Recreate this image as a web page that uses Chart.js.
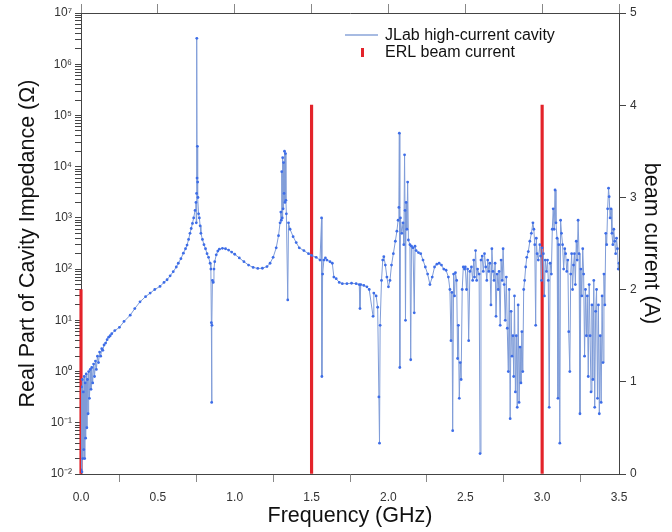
<!DOCTYPE html>
<html>
<head>
<meta charset="utf-8">
<script src="https://cdn.jsdelivr.net/npm/chart.js@4"></script>
<style>
  body { margin: 0; background: #fff; }
  canvas { display: block; }
</style>
</head>
<body>
<canvas id="impedanceChart" width="672" height="532"></canvas>
<script>
// Real part of cavity impedance vs frequency
const freqGHz = [
  0.000, 0.003, 0.006, 0.009, 0.012, 0.015, 0.018, 0.021, 0.024, 0.027,
  0.030, 0.034, 0.038, 0.042, 0.046, 0.050, 0.055, 0.060, 0.065, 0.070,
  0.076, 0.082, 0.088, 0.094, 0.100, 0.107, 0.114, 0.121, 0.128, 0.135,
  0.142, 0.150, 0.160, 0.170, 0.180, 0.190, 0.200, 0.220, 0.250, 0.280,
  0.320, 0.350, 0.384, 0.420, 0.450, 0.480, 0.514, 0.540, 0.560, 0.580,
  0.600, 0.620, 0.633, 0.650, 0.666, 0.680, 0.690, 0.700, 0.709, 0.717,
  0.725, 0.733, 0.742, 0.748, 0.750, 0.752, 0.7535, 0.755, 0.757, 0.759,
  0.761, 0.765, 0.770, 0.775, 0.780, 0.790, 0.800, 0.810, 0.820, 0.830,
  0.840, 0.845, 0.848, 0.850, 0.852, 0.855, 0.860, 0.865, 0.870, 0.880,
  0.890, 0.900, 0.920, 0.940, 0.960, 0.980, 1.000, 1.030, 1.060, 1.090,
  1.120, 1.150, 1.180, 1.210, 1.230, 1.250, 1.270, 1.285, 1.295, 1.300,
  1.303, 1.306, 1.309, 1.312, 1.315, 1.318, 1.321, 1.324, 1.327, 1.330,
  1.333, 1.336, 1.345, 1.350, 1.360, 1.380, 1.400, 1.420, 1.450, 1.480,
  1.500, 1.530, 1.555, 1.565, 1.567, 1.572, 1.580, 1.590, 1.600, 1.620,
  1.635, 1.645, 1.660, 1.680, 1.700, 1.730, 1.760, 1.790, 1.810, 1.815,
  1.820, 1.840, 1.860, 1.875, 1.900, 1.905, 1.920, 1.930, 1.938, 1.942,
  1.946, 1.955, 1.963, 1.970, 1.980, 1.990, 2.000, 2.010, 2.020, 2.032,
  2.045, 2.055, 2.063, 2.068, 2.071, 2.074, 2.078, 2.087, 2.095, 2.100,
  2.105, 2.108, 2.111, 2.115, 2.120, 2.125, 2.130, 2.140, 2.145, 2.150,
  2.160, 2.168, 2.173, 2.180, 2.195, 2.210, 2.225, 2.240, 2.255, 2.270,
  2.285, 2.300, 2.315, 2.330, 2.345, 2.360, 2.375, 2.390, 2.400, 2.407,
  2.413, 2.418, 2.424, 2.430, 2.436, 2.444, 2.450, 2.455, 2.461, 2.467,
  2.473, 2.480, 2.487, 2.495, 2.500, 2.508, 2.515, 2.522, 2.530, 2.540,
  2.548, 2.555, 2.560, 2.567, 2.574, 2.580, 2.590, 2.596, 2.602, 2.610,
  2.617, 2.625, 2.633, 2.640, 2.646, 2.653, 2.660, 2.667, 2.673, 2.680,
  2.687, 2.694, 2.700, 2.707, 2.714, 2.720, 2.727, 2.733, 2.740, 2.746,
  2.753, 2.760, 2.767, 2.773, 2.780, 2.786, 2.792, 2.798, 2.804, 2.810,
  2.815, 2.820, 2.826, 2.832, 2.838, 2.844, 2.850, 2.856, 2.862, 2.868,
  2.874, 2.880, 2.886, 2.893, 2.900, 2.910, 2.920, 2.930, 2.940, 2.946,
  2.952, 2.958, 2.962, 2.967, 2.975, 2.985, 2.990, 2.996, 3.000, 3.008,
  3.015, 3.020, 3.028, 3.035, 3.040, 3.046, 3.052, 3.060, 3.066, 3.072,
  3.078, 3.084, 3.090, 3.097, 3.103, 3.108, 3.115, 3.120, 3.126, 3.133,
  3.140, 3.147, 3.153, 3.160, 3.167, 3.173, 3.180, 3.186, 3.192, 3.198,
  3.204, 3.210, 3.216, 3.222, 3.228, 3.234, 3.240, 3.246, 3.252, 3.258,
  3.264, 3.270, 3.276, 3.282, 3.288, 3.294, 3.300, 3.306, 3.312, 3.318,
  3.324, 3.330, 3.336, 3.342, 3.348, 3.354, 3.360, 3.366, 3.372, 3.378,
  3.384, 3.390, 3.396, 3.402, 3.408, 3.414, 3.420, 3.426, 3.432, 3.436,
  3.442, 3.448, 3.454, 3.460, 3.466, 3.472, 3.478, 3.484, 3.490, 3.495,
  3.500
];
const impedanceOhm = [
  0.012, 0.5, 0.011, 0.7, 0.02, 0.4, 0.03, 0.8, 0.02, 0.6,
  0.05, 0.9, 0.08, 0.7, 0.15, 1.0, 0.3, 1.1, 0.45, 1.2,
  0.6, 1.4, 0.8, 1.6, 1.1, 2.0, 1.5, 2.4, 2.0, 2.8,
  2.6, 3.3, 3.6, 4.2, 4.7, 5.0, 5.5, 6.3, 7.3, 9.5,
  12.6, 17, 23, 29, 34, 40, 46, 55, 62, 74,
  89, 110, 130, 160, 205, 250, 295, 380, 500, 620,
  780, 1000, 1400, 2000, 800, 3000, 3.2e6, 6000, 25000, 5000,
  2500, 1200, 1000, 700, 500, 380, 300, 250, 200, 170,
  130, 100, 9, 0.25, 8, 60, 55, 100, 140, 190,
  225, 245, 255, 250, 235, 215, 195, 165, 140, 120,
  108, 103, 104, 112, 130, 170, 260, 450, 800, 1300,
  900, 8000, 1000, 15000, 1500, 12000, 3000, 20000, 2000, 18000,
  2200, 1200, 25, 800, 600, 430, 330, 260, 230, 200,
  185, 170, 150, 1000, 0.8, 80, 150, 165, 150, 140,
  130, 70, 65, 55, 52, 52, 53, 52, 50, 17,
  50, 48, 45, 40, 12, 34, 30, 18, 0.32, 0.04,
  8, 60, 150, 175, 120, 70, 45, 60, 120, 200,
  350, 550, 900, 1600, 45000, 1.2, 1000, 500, 800, 300,
  17000, 1400, 10, 2000, 600, 5000, 370, 300, 1.7, 280,
  260, 14, 280, 230, 210, 200, 150, 110, 80, 50,
  70, 110, 125, 130, 120, 100, 95, 70, 40, 4,
  35, 0.07, 80, 30, 85, 60, 1.8, 8, 0.3, 1.5,
  0.7, 40, 110, 100, 110, 40, 100, 4, 90, 110,
  60, 150, 70, 230, 60, 100, 80, 0.025, 150, 180,
  90, 200, 110, 60, 150, 90, 130, 20, 250, 90,
  60, 130, 12, 80, 40, 90, 8, 150, 60, 250,
  50, 10, 70, 7, 1.0, 40, 0.12, 15, 2, 5,
  0.8, 30, 0.4, 5, 0.2, 20, 0.25, 3, 0.6, 6,
  1.0, 40, 60, 110, 170, 220, 350, 500, 800, 600,
  300, 8, 400, 200, 150, 300, 180, 60, 260, 200,
  30, 150, 90, 150, 60, 0.2, 130, 80, 600, 1500,
  600, 3500, 800, 400, 0.3, 300, 0.04, 900, 500, 300,
  100, 250, 200, 90, 150, 6, 1.0, 80, 200, 40,
  120, 200, 50, 350, 150, 900, 200, 0.15, 100, 30,
  250, 80, 2, 40, 5, 30, 0.8, 50, 5, 0.4,
  20, 0.7, 60, 0.2, 15, 40, 0.3, 20, 0.15, 5,
  0.25, 30, 1.5, 80, 20, 500, 300, 1500, 3800, 2600,
  1000, 1500, 500, 300, 600, 350, 200, 400, 250, 100,
  130
];

// ERL beam current lines (right axis)
const beamFreqGHz = [0.0, 1.5, 3.0];
const beamCurrentA = [2, 4, 4];

const axisColor = "#444";
const tickFont = { family: "'Liberation Sans', Arial, sans-serif", size: 12 };
const titleFont = { family: "'Liberation Sans', Arial, sans-serif", size: 21.5 };

const supMap = { "-": "\u207B", "0": "\u2070", "1": "\u00B9", "2": "\u00B2", "3": "\u00B3",
  "4": "\u2074", "5": "\u2075", "6": "\u2076", "7": "\u2077", "8": "\u2078", "9": "\u2079" };
const isDecade = (v) => Math.abs(Math.log10(v) - Math.round(Math.log10(v))) < 1e-6;
const isWholeSignificand = (v) => {
    const s = v / Math.pow(10, Math.floor(Math.log10(v) + 1e-9));
    return Math.abs(s - Math.round(s)) < 1e-6;
};

// legend drawn inside the plot, top right
const insideLegend = {
    id: "insideLegend",
    afterDatasetsDraw(chart) {
        const ctx = chart.ctx;
        ctx.save();
        ctx.font = "16px 'Liberation Sans', Arial, sans-serif";
        ctx.fillStyle = "#111";
        ctx.textBaseline = "middle";
        ctx.strokeStyle = "#8aa4d8";
        ctx.lineWidth = 1.5;
        ctx.beginPath();
        ctx.moveTo(345, 35);
        ctx.lineTo(378, 35);
        ctx.stroke();
        ctx.fillText("JLab high-current cavity", 385, 36);
        ctx.fillStyle = "#e3232a";
        ctx.fillRect(361, 48, 3, 9);
        ctx.fillStyle = "#111";
        ctx.fillText("ERL beam current", 385, 53);
        ctx.restore();
    },
};

const ctx = document.getElementById("impedanceChart").getContext("2d");
new Chart(ctx, {
    type: "line",
    data: {
        datasets: [
            {
                label: "JLab high-current cavity",
                data: freqGHz.map((f, i) => ({ x: f, y: impedanceOhm[i] })),
                yAxisID: "y",
                borderColor: "#7f9cd8",
                borderWidth: 1,
                pointRadius: 1.4,
                pointBorderWidth: 0,
                pointBackgroundColor: "#3d6de8",
                tension: 0,
            },
            {
                type: "bar",
                label: "ERL beam current",
                data: beamFreqGHz.map((f, i) => ({ x: f, y: beamCurrentA[i] })),
                yAxisID: "y2",
                backgroundColor: "#e3232a",
                barThickness: 2.5,
                grouped: false,
                clip: false,
            },
        ],
    },
    options: {
        responsive: false,
        devicePixelRatio: 1,
        animation: false,
        layout: { padding: 0 },
        plugins: { legend: { display: false }, tooltip: { enabled: false } },
        scales: {
            x: {
                type: "linear",
                position: "bottom",
                min: 0,
                max: 3.5,
                offset: false,
                afterFit: (s) => { s.height = 58; },
                ticks: { stepSize: 0.5, font: tickFont, color: "#333", padding: 8,
                    callback: (v) => v.toFixed(1) },
                grid: { drawOnChartArea: false, tickLength: 8, tickColor: "#888" },
                border: { color: axisColor },
                title: { display: true, text: "Frequency (GHz)", font: titleFont, color: "#111",
                    padding: { top: 0, bottom: 3 } },
            },
            x2: {
                type: "linear",
                axis: "x",
                position: "top",
                min: 0,
                max: 3.5,
                afterFit: (s) => { s.height = 13; },
                ticks: { stepSize: 0.5, display: false },
                grid: { drawOnChartArea: false, tickLength: 9, tickColor: "#888" },
                border: { color: axisColor },
            },
            y: {
                type: "logarithmic",
                position: "left",
                min: 0.01,
                max: 1e7,
                afterFit: (s) => { s.width = 81; },
                ticks: {
                    autoSkip: false,
                    font: tickFont,
                    color: "#333",
                    padding: 3,
                    callback: (v) => {
                        if (!isDecade(v)) return "";
                        const e = String(Math.round(Math.log10(v)));
                        return "10" + e.split("").map((c) => supMap[c]).join("");
                    },
                },
                grid: {
                    drawOnChartArea: false,
                    tickLength: 6,
                    tickColor: (c) => (c.tick && isWholeSignificand(c.tick.value) ? axisColor : "rgba(0,0,0,0)"),
                },
                border: { color: axisColor },
                title: { display: true, text: "Real Part of Cavity Impedance (\u03A9)", font: titleFont,
                    color: "#111", padding: { top: 15, bottom: 0 } },
            },
            y2: {
                type: "linear",
                position: "right",
                min: 0,
                max: 5,
                afterFit: (s) => { s.width = 53; },
                ticks: { stepSize: 1, font: tickFont, color: "#333", padding: 4 },
                grid: { drawOnChartArea: false, tickLength: 7, tickColor: axisColor },
                border: { color: axisColor },
                title: { display: true, text: "beam current (A)", font: titleFont, color: "#111",
                    padding: { top: 8, bottom: 0 } },
            },
        },
    },
    plugins: [insideLegend],
});
</script>
</body>
</html>
